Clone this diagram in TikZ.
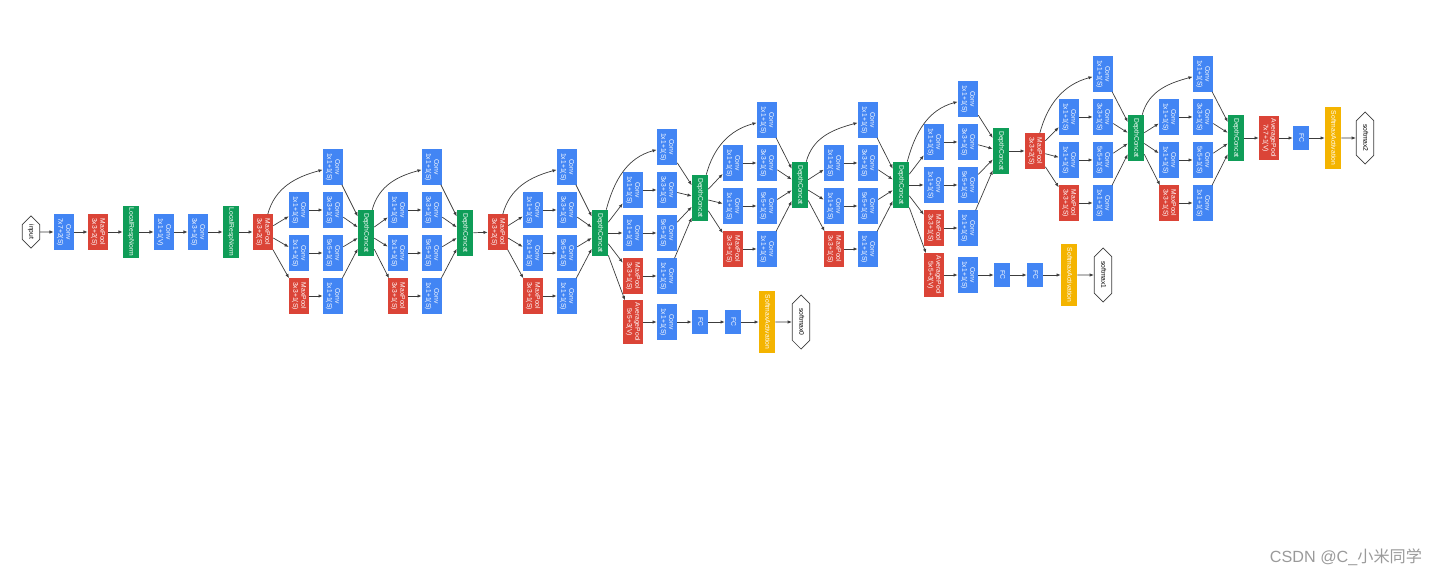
\documentclass[tikz,border=0pt]{standalone}
\usepackage{fontspec}
\setmainfont{Liberation Sans}
\newfontfamily\cjkfont{Noto Sans CJK SC}
\usepackage{graphicx}
\usepackage{tikz}
\usetikzlibrary{arrows.meta, shapes.misc}

\definecolor{gblue}{HTML}{4285F4}
\definecolor{gred}{HTML}{DB4437}
\definecolor{ggreen}{HTML}{0F9D58}
\definecolor{gyellow}{HTML}{F4B400}
\definecolor{edgegray}{HTML}{3C3C3C}
\definecolor{wmgray}{HTML}{9A9A9A}

\newcommand\vt[1]{\rotatebox{-90}{\begin{tabular}{@{}c@{}}#1\end{tabular}}}

% one inception block: name, input node, x of first column, y of top branch, y of concat
\newcommand\inception[5]{%
	\node[conv]   (#1-t)  at (#3+34,-#4)     {\vt{Conv\\1x1+1(S)}};
	\node[conv]   (#1-a1) at (#3,-#4-43)     {\vt{Conv\\1x1+1(S)}};
	\node[conv]   (#1-a2) at (#3+34,-#4-43)  {\vt{Conv\\3x3+1(S)}};
	\node[conv]   (#1-b1) at (#3,-#4-86)     {\vt{Conv\\1x1+1(S)}};
	\node[conv]   (#1-b2) at (#3+34,-#4-86)  {\vt{Conv\\5x5+1(S)}};
	\node[pool]   (#1-p1) at (#3,-#4-129)    {\vt{MaxPool\\3x3+1(S)}};
	\node[conv]   (#1-p2) at (#3+34,-#4-129) {\vt{Conv\\1x1+1(S)}};
	\node[concat] (#1)    at (#3+67,-#5)     {\vt{DepthConcat}};
	\draw[arr] (#2) to[out=75,in=195] (#1-t);
	\draw[arr] (#2) -- (#1-a1);
	\draw[arr] (#2) -- (#1-b1);
	\draw[arr] (#2) -- (#1-p1);
	\draw[arr] (#1-a1) -- (#1-a2);
	\draw[arr] (#1-b1) -- (#1-b2);
	\draw[arr] (#1-p1) -- (#1-p2);
	\draw[arr] (#1-t) -- (#1);
	\draw[arr] (#1-a2) -- (#1);
	\draw[arr] (#1-b2) -- (#1);
	\draw[arr] (#1-p2) -- (#1);
}

\begin{document}
\begin{tikzpicture}[x=0.025cm, y=0.025cm]
	\tikzset{
		box/.style={inner sep=0pt, text=white, font=\fontsize{4.8}{5.6}\selectfont},
		conv/.style={box, fill=gblue, minimum width=0.5cm, minimum height=0.875cm},
		pool/.style={conv, fill=gred},
		avgpool/.style={pool, minimum height=1.075cm},
		norm/.style={box, fill=ggreen, minimum width=0.4cm, minimum height=1.3cm},
		concat/.style={norm, minimum height=1.15cm},
		fc/.style={box, fill=gblue, minimum width=0.4cm, minimum height=0.575cm},
		act/.style={box, fill=gyellow, minimum width=0.4cm, minimum height=1.525cm},
		io/.style={chamfered rectangle, chamfered rectangle xsep=0.12cm, chamfered rectangle ysep=0.2cm,
			draw=edgegray, line width=0.5pt, fill=white, inner sep=0pt, minimum width=0.42cm,
			font=\fontsize{4.8}{5.6}\selectfont},
		arr/.style={draw=edgegray, line width=0.5pt, -{Latex[length=3pt,width=2.4pt]}},
	}
	\useasboundingbox (0,0) rectangle (1440,-577);

	% stem
	\node[io, minimum height=0.8cm] (input) at (31,-232) {\vt{input}};
	\node[conv] (conv1)  at (64,-232)  {\vt{Conv\\7x7+2(S)}};
	\node[pool] (pool1)  at (98,-232)  {\vt{MaxPool\\3x3+2(S)}};
	\node[norm] (norm1)  at (131,-232) {\vt{LocalRespNorm}};
	\node[conv] (conv2r) at (164,-232) {\vt{Conv\\1x1+1(V)}};
	\node[conv] (conv2)  at (198,-232) {\vt{Conv\\3x3+1(S)}};
	\node[norm] (norm2)  at (231,-232) {\vt{LocalRespNorm}};
	\node[pool] (pool2)  at (263,-232) {\vt{MaxPool\\3x3+2(S)}};
	\foreach \a/\b in {input/conv1, conv1/pool1, pool1/norm1, norm1/conv2r, conv2r/conv2, conv2/norm2, norm2/pool2}
		\draw[arr] (\a) -- (\b);

	\inception{i3a}{pool2}{299}{167}{233}
	\inception{i3b}{i3a}{398}{167}{233}
	\node[pool] (pool3) at (498,-232) {\vt{MaxPool\\3x3+2(S)}};
	\draw[arr] (i3b) -- (pool3);

	\inception{i4a}{pool3}{533}{167}{233}
	\inception{i4b}{i4a}{633}{147}{198}
	\inception{i4c}{i4b}{733}{120}{185}
	\inception{i4d}{i4c}{834}{120}{185}
	\inception{i4e}{i4d}{934}{99}{151}
	\node[pool] (pool4) at (1035,-151) {\vt{MaxPool\\3x3+2(S)}};
	\draw[arr] (i4e) -- (pool4);

	\inception{i5a}{pool4}{1069}{74}{138}
	\inception{i5b}{i5a}{1169}{74}{138}

	% auxiliary classifiers
	\node[avgpool] (aux0pool) at (633,-322) {\vt{AveragePool\\5x5+3(V)}};
	\node[conv]    (aux0conv) at (667,-322) {\vt{Conv\\1x1+1(S)}};
	\node[fc]      (aux0fc1)  at (700,-322) {\vt{FC}};
	\node[fc]      (aux0fc2)  at (733,-322) {\vt{FC}};
	\node[act]     (aux0act)  at (767,-322) {\vt{SoftmaxActivation}};
	\node[io, minimum height=1.35cm] (softmax0) at (801,-322) {\vt{softmax0}};
	\foreach \a/\b in {i4a/aux0pool, aux0pool/aux0conv, aux0conv/aux0fc1, aux0fc1/aux0fc2, aux0fc2/aux0act, aux0act/softmax0}
		\draw[arr] (\a) -- (\b);

	\node[avgpool] (aux1pool) at (934,-275)  {\vt{AveragePool\\5x5+3(V)}};
	\node[conv]    (aux1conv) at (968,-275)  {\vt{Conv\\1x1+1(S)}};
	\node[fc]      (aux1fc1)  at (1002,-275) {\vt{FC}};
	\node[fc]      (aux1fc2)  at (1035,-275) {\vt{FC}};
	\node[act]     (aux1act)  at (1069,-275) {\vt{SoftmaxActivation}};
	\node[io, minimum height=1.35cm] (softmax1) at (1103,-275) {\vt{softmax1}};
	\foreach \a/\b in {i4d/aux1pool, aux1pool/aux1conv, aux1conv/aux1fc1, aux1fc1/aux1fc2, aux1fc2/aux1act, aux1act/softmax1}
		\draw[arr] (\a) -- (\b);

	% output
	\node[avgpool] (pool5) at (1269,-138) {\vt{AveragePool\\7x7+1(V)}};
	\node[fc]      (fc)    at (1301,-138) {\vt{FC}};
	\node[act]     (act)   at (1333,-138) {\vt{SoftmaxActivation}};
	\node[io, minimum height=1.3cm] (softmax2) at (1365,-138) {\vt{softmax2}};
	\foreach \a/\b in {i5b/pool5, pool5/fc, fc/act, act/softmax2}
		\draw[arr] (\a) -- (\b);

	\node[anchor=east, text=wmgray, font=\fontsize{11.5}{12}\selectfont] (wm) at (1427,-557) {CSDN @C\_{\cjkfont 小米同学}};
\end{tikzpicture}
\end{document}
